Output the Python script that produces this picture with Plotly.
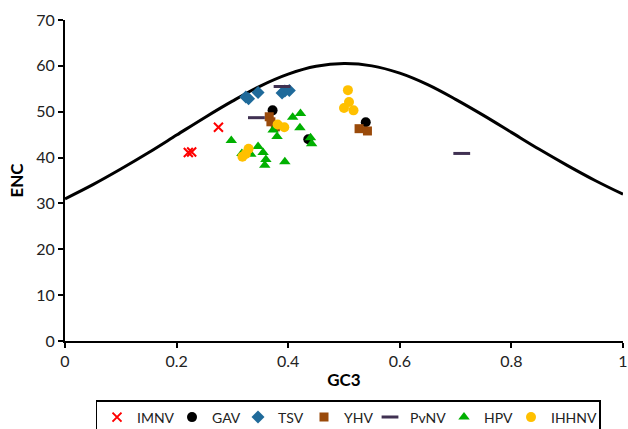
import plotly.graph_objects as go

# Expected ENC curve (values read at GC3 steps of 0.05)
curve_gc3 = [0, 0.05, 0.1, 0.15, 0.2, 0.25, 0.3, 0.35, 0.4, 0.45, 0.5,
             0.55, 0.6, 0.65, 0.7, 0.75, 0.8, 0.85, 0.9, 0.95, 1.0]
curve_enc = [31.0, 34.1, 37.5, 41.1, 44.9, 48.7, 52.3, 55.6, 58.2, 59.9, 60.5,
             60.0, 58.4, 55.9, 52.7, 49.2, 45.5, 41.8, 38.3, 35.0, 32.0]

imnv_gc3 = [0.221, 0.227, 0.275]
imnv_enc = [41.1, 41.2, 46.6]

gav_gc3 = [0.372, 0.436, 0.539]
gav_enc = [50.3, 44.0, 47.7]

tsv_gc3 = [0.324, 0.329, 0.346, 0.389, 0.394, 0.402]
tsv_enc = [53.2, 52.8, 54.2, 54.1, 54.5, 54.6]

yhv_gc3 = [0.366, 0.369, 0.377, 0.527, 0.542]
yhv_enc = [48.9, 47.8, 46.7, 46.3, 45.8]

pvnv_gc3 = [0.343, 0.389, 0.711]
pvnv_enc = [48.7, 55.5, 40.9]

hpv_gc3 = [0.298, 0.317, 0.333, 0.346, 0.355, 0.360, 0.358, 0.373, 0.380,
           0.394, 0.408, 0.422, 0.421, 0.440, 0.442]
hpv_enc = [43.7, 40.9, 40.7, 42.4, 41.1, 39.6, 38.3, 46.0, 44.6,
           39.1, 48.8, 49.6, 46.5, 44.3, 43.0]

ihhnv_gc3 = [0.507, 0.509, 0.500, 0.517, 0.381, 0.393, 0.329, 0.324, 0.318]
ihhnv_enc = [54.7, 52.1, 50.8, 50.3, 47.2, 46.6, 41.9, 40.8, 40.2]

x_ticks = [0, 0.2, 0.4, 0.6, 0.8, 1]
x_ticklabels = ["0", "0.2", "0.4", "0.6", "0.8", "1"]
y_ticks = [0, 10, 20, 30, 40, 50, 60, 70]

FONT = "Lato, 'Open Sans', sans-serif"

fig = go.Figure()
fig.add_trace(go.Scatter(x=curve_gc3, y=curve_enc, mode="lines",
                         line=dict(color="black", width=3, shape="spline"),
                         showlegend=False, hoverinfo="skip"))

series = [
    ("IMNV", imnv_gc3, imnv_enc, dict(symbol="x-thin", size=9, color="#FF0000",
                                       line=dict(color="#FF0000", width=2)), 30),
    ("GAV", gav_gc3, gav_enc, dict(symbol="circle", size=10, color="#000000"), 21),
    ("TSV", tsv_gc3, tsv_enc, dict(symbol="diamond", size=10, color="#1F6A9A"), 21),
    ("YHV", yhv_gc3, yhv_enc, dict(symbol="square", size=9, color="#9A4A0A"), 21),
    ("PvNV", pvnv_gc3, pvnv_enc, dict(symbol="line-ew", size=12, color="#403152",
                                       line=dict(color="#403152", width=3)), 29),
    ("HPV", hpv_gc3, hpv_enc, dict(symbol="triangle-up", size=10, color="#00B000"), 22),
    ("IHHNV", ihhnv_gc3, ihhnv_enc, dict(symbol="circle", size=10, color="#FFC000"), 43),
]
for name, xs, ys, mk, lw in series:
    fig.add_trace(go.Scatter(x=xs, y=ys, mode="markers", name=name, marker=mk,
                             legendwidth=lw))

axis_common = dict(showline=True, linecolor="black", linewidth=2,
                   ticks="outside", ticklen=5, tickwidth=2, tickcolor="black",
                   showgrid=False, zeroline=False, automargin=False,
                   ticklabeloverflow="allow",
                   tickfont=dict(family=FONT, size=16, color="#222"))

fig.update_xaxes(range=[0, 1], tickvals=x_ticks, ticktext=x_ticklabels,
                 title=dict(text="<b>GC3</b>", font=dict(family=FONT, size=17, color="black"),
                            standoff=5),
                 **axis_common)
fig.update_yaxes(range=[0, 70], tickvals=y_ticks,
                 title=dict(text="<b>ENC</b>", font=dict(family=FONT, size=17, color="black"),
                            standoff=8),
                 **axis_common)

fig.update_layout(
    width=628, height=429,
    margin=dict(l=64.5, r=4.5, t=19.5, b=87.5),
    plot_bgcolor="white", paper_bgcolor="white",
    font=dict(family=FONT, size=14, color="#222"),
    legend=dict(orientation="h", x=348 / 628, xanchor="center", y=1 - 400 / 429, yanchor="top",
                xref="container", yref="container",
                bordercolor="black", borderwidth=1.5,
                itemwidth=30, tracegroupgap=0,
                font=dict(family=FONT, size=14, color="#222")),
)

fig.write_html(
    "out.html",
    config={"displayModeBar": False},
    post_script="document.body.style.margin='0';document.body.style.overflow='hidden';",
)
